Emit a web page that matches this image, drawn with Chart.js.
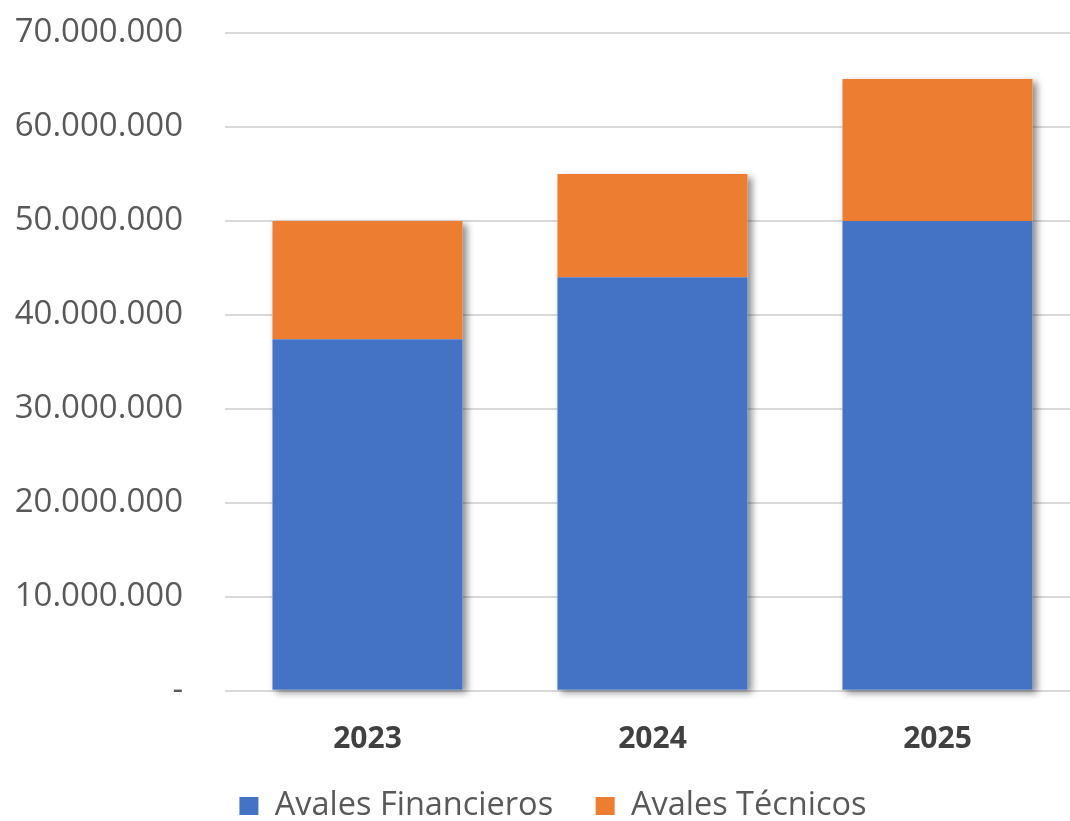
<!DOCTYPE html>
<html>
<head>
<meta charset="utf-8">
<script src="https://cdn.jsdelivr.net/npm/chart.js@4.4.1/dist/chart.umd.min.js"></script>
<style>
  html, body { margin: 0; padding: 0; background: #ffffff; overflow: hidden; }
  #wrap { width: 1082px; height: 821px; }
</style>
</head>
<body>
<div id="wrap"><canvas id="c" width="1082" height="821"></canvas></div>
<script>
const categories = ['2023', '2024', '2025'];
const avalesFinancieros = [37400000, 44000000, 50000000];
const avalesTecnicos = [12600000, 11000000, 15100000];
const yTickLabels = ['-', '10.000.000', '20.000.000', '30.000.000', '40.000.000', '50.000.000', '60.000.000', '70.000.000'];
const seriesNames = ['Avales Financieros', 'Avales Técnicos'];

const FONT = "'Open Sans', 'DejaVu Sans', sans-serif";

const stackShadow = {
  id: 'stackShadow',
  beforeDatasetsDraw(chart) {
    const ctx = chart.ctx;
    const m0 = chart.getDatasetMeta(0).data;
    const m1 = chart.getDatasetMeta(1).data;
    ctx.save();
    ctx.shadowColor = 'rgba(0,0,0,0.45)';
    ctx.shadowBlur = 7;
    ctx.shadowOffsetX = 4;
    ctx.shadowOffsetY = 3;
    ctx.fillStyle = '#ffffff';
    for (let i = 0; i < m0.length; i++) {
      const b = m0[i], t = m1[i];
      const w = b.width;
      ctx.fillRect(b.x - w / 2, t.y, w, b.base - t.y);
    }
    ctx.restore();
  }
};

const legendShift = {
  id: 'legendShift',
  afterLayout(chart) {
    const lg = chart.legend;
    if (lg) {
      lg.left += 26;
      lg.top -= 7.5;
      lg.bottom -= 7.5;
    }
  }
};

new Chart(document.getElementById('c'), {
  type: 'bar',
  data: {
    labels: categories,
    datasets: [
      { label: seriesNames[0], data: avalesFinancieros, backgroundColor: '#4472C4', borderWidth: 0 },
      { label: seriesNames[1], data: avalesTecnicos, backgroundColor: '#ED7D31', borderWidth: 0 }
    ]
  },
  options: {
    responsive: false,
    animation: false,
    devicePixelRatio: 1,
    layout: { padding: { top: 33, left: 0, right: 2, bottom: -18.7 } },
    datasets: { bar: { categoryPercentage: 1.0, barPercentage: 0.667 } },
    scales: {
      x: {
        stacked: true,
        afterFit(scale) { scale.height = 64; },
        grid: { display: false, drawTicks: false },
        border: { display: false },
        ticks: { color: '#404040', font: { family: FONT, size: 30, weight: 'bold' }, padding: 31 }
      },
      y: {
        stacked: true,
        min: 0,
        max: 70000000,
        afterFit(scale) { scale.width = 225; scale.paddingTop = 20; scale.paddingBottom = 20; },
        grid: { color: '#d9d9d9', lineWidth: 2, drawTicks: false },
        border: { display: false },
        ticks: {
          stepSize: 10000000,
          color: '#595959',
          font: { family: FONT, size: 33 },
          padding: 42,
          callback: (v, i) => yTickLabels[i]
        }
      }
    },
    plugins: {
      tooltip: { enabled: false },
      legend: {
        position: 'bottom',
        labels: {
          color: '#595959',
          font: { family: FONT, size: 32.5 },
          boxWidth: 19,
          boxHeight: 18,
          padding: 42.5
        }
      }
    }
  },
  plugins: [stackShadow, legendShift]
});
</script>
</body>
</html>
